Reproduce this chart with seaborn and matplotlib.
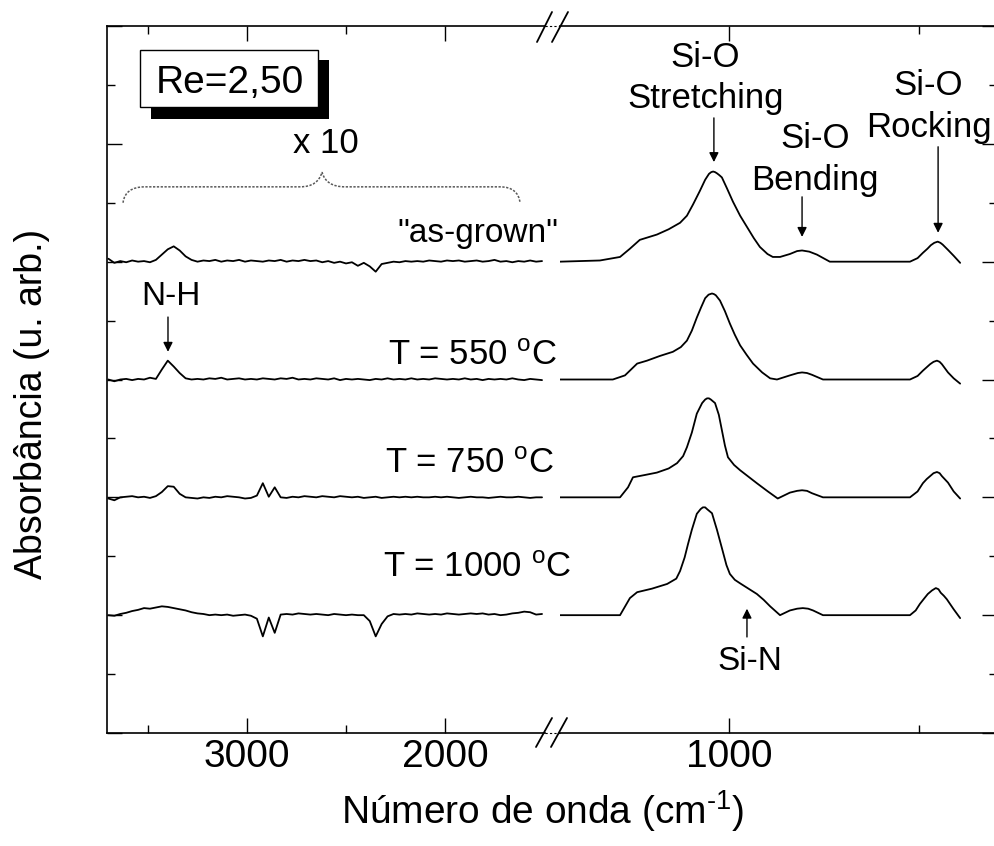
import matplotlib
matplotlib.use("Agg")
import matplotlib.pyplot as plt
import seaborn as sns
import pandas as pd
from matplotlib.lines import Line2D
from matplotlib.patches import Rectangle, PathPatch
from matplotlib.path import Path

# ---------------- data ----------------
OFFSETS = [8, 6, 4, 2]          # as-grown, 550, 750, 1000 °C (vertical offsets)
LABELS = ['"as-grown"', "T = 550 $^{\\rm o}$C", "T = 750 $^{\\rm o}$C", "T = 1000 $^{\\rm o}$C"]

# left panel (x10), wavenumber grid
LEFT_WN = list(range(3700, 1500, -30))
AG_L = [0.05, -0.02, 0.01, -0.01, 0.02, 0.00, 0.01, -0.01, 0.03, 0.12,
        0.21, 0.26, 0.19, 0.09, 0.03, 0.00, 0.02, 0.01, 0.03, 0.00,
        0.02, 0.01, 0.03, 0.00, 0.02, 0.01, 0.00, 0.02, 0.01, 0.03,
        0.00, 0.02, 0.01, 0.03, 0.01, 0.02, -0.01, 0.01, -0.02, 0.00,
        -0.03, -0.01, -0.07, -0.02, -0.08, -0.17, -0.04, -0.02, 0.00, -0.01,
        0.01, 0.00, 0.01, 0.00, 0.02, 0.01, 0.00, 0.02, 0.01, 0.02,
        0.00, 0.01, 0.02, 0.00, 0.01, 0.03, 0.00, 0.01, -0.01, 0.01,
        0.00, 0.02, 0.00, 0.01]
S550_L = [0.00, -0.03, 0.00, 0.01, -0.01, 0.01, 0.00, 0.03, 0.01, 0.17,
          0.32, 0.22, 0.11, 0.02, 0.00, 0.01, 0.00, 0.02, 0.01, 0.03,
          0.00, 0.01, 0.02, 0.00, 0.01, 0.00, 0.02, 0.01, 0.00, 0.02,
          0.01, 0.03, 0.00, 0.01, 0.00, 0.02, 0.01, 0.00, 0.02, -0.01,
          0.01, 0.00, 0.01, 0.00, -0.01, 0.01, 0.00, 0.02, 0.00, 0.01,
          0.00, 0.02, 0.00, 0.01, 0.00, 0.02, 0.01, 0.00, 0.01, 0.00,
          0.02, 0.00, 0.01, -0.01, 0.01, 0.00, 0.01, 0.00, 0.02, 0.00,
          -0.01, 0.01, 0.00, -0.01]
S750_L = [-0.02, -0.05, 0.00, 0.01, 0.02, 0.00, 0.01, -0.01, 0.02, 0.09,
          0.19, 0.18, 0.06, 0.00, -0.01, -0.02, 0.00, -0.01, 0.01, 0.00,
          0.02, 0.01, 0.00, -0.02, -0.01, 0.03, 0.24, 0.01, 0.17, 0.00,
          -0.01, 0.01, 0.00, 0.02, 0.01, 0.00, 0.02, 0.01, 0.00, 0.02,
          0.01, 0.00, 0.01, -0.01, 0.00, 0.01, -0.01, 0.00, 0.01, 0.00,
          0.01, 0.00, 0.01, 0.00, 0.00, 0.01, 0.00, 0.01, 0.00, -0.01,
          0.00, 0.01, 0.00, 0.00, -0.01, 0.00, 0.01, 0.00, 0.00, 0.01,
          0.00, -0.01, 0.00, 0.00]
S1000_L = [0.00, -0.01, 0.02, 0.04, 0.07, 0.09, 0.12, 0.11, 0.13, 0.15,
           0.14, 0.12, 0.10, 0.08, 0.05, 0.03, 0.02, 0.00, 0.01, 0.00,
           0.01, -0.01, 0.00, 0.01, -0.01, -0.06, -0.36, -0.04, -0.30, 0.01,
           0.02, 0.01, 0.03, 0.02, 0.01, 0.02, 0.01, 0.00, 0.02, 0.01,
           0.00, 0.01, 0.00, 0.00, -0.10, -0.36, -0.15, -0.02, 0.02, 0.01,
           0.02, 0.01, 0.03, 0.02, 0.01, 0.02, 0.01, 0.03, 0.02, 0.01,
           0.02, 0.03, 0.02, 0.03, 0.01, 0.02, 0.00, 0.01, 0.03, 0.04,
           0.06, 0.05, 0.01, 0.02]

# right panel
AG_R_WN = [1446, 1341, 1288, 1262, 1236, 1191, 1160, 1130, 1112, 1096, 1078, 1064, 1054, 1048,
           1043, 1038, 1033, 1027, 1020, 1007, 991, 972, 954, 936, 920, 900, 886, 867, 841,
           822, 809, 790, 770, 736, 630, 525, 505, 491, 479, 470, 461, 452, 445, 439, 425,
           410, 393]
AG_R = [0.00, 0.02, 0.08, 0.22, 0.37, 0.46, 0.55, 0.66, 0.78, 0.97, 1.20, 1.39, 1.49, 1.52,
        1.53, 1.52, 1.50, 1.47, 1.43, 1.25, 1.02, 0.78, 0.59, 0.40, 0.25, 0.13, 0.08, 0.08, 0.13,
        0.18, 0.19, 0.17, 0.12, 0.00, 0.00, 0.00, 0.06, 0.15, 0.22, 0.28, 0.32, 0.34, 0.32, 0.29, 0.20,
        0.10, -0.02]
S550_R_WN = [1446, 1307, 1275, 1243, 1217, 1183, 1149, 1128, 1112, 1099, 1086, 1075, 1064, 1055,
             1046, 1041, 1036, 1025, 1012, 999, 986, 972, 955, 938, 914, 893, 875, 841, 820, 809, 796,
             783, 754, 630, 525, 505, 491, 472, 463, 454, 447, 441, 425, 410, 393]
S550_R = [0.00, 0.00, 0.07, 0.27, 0.32, 0.40, 0.47, 0.55, 0.66, 0.83, 1.05, 1.22, 1.38, 1.44,
          1.46, 1.45, 1.43, 1.34, 1.16, 0.95, 0.76, 0.58, 0.42, 0.27, 0.12, 0.02, 0.00, 0.07, 0.11, 0.12, 0.11,
          0.08, 0.00, 0.00, 0.00, 0.06, 0.15, 0.26, 0.30, 0.32, 0.30, 0.26, 0.12, 0.02, -0.07]
S750_R_WN = [1446, 1288, 1267, 1254, 1222, 1191, 1160, 1138, 1122, 1112, 1099, 1086, 1072, 1064, 1059,
             1054, 1049, 1038, 1028, 1020, 1012, 1004, 988, 972, 950, 928, 899, 873, 841, 822, 809, 796,
             783, 754, 630, 525, 505, 491, 481, 472, 463, 454, 447, 441, 425, 410, 393]
S750_R = [0.00, 0.00, 0.17, 0.34, 0.38, 0.42, 0.49, 0.58, 0.70, 0.85, 1.10, 1.42, 1.60, 1.66, 1.68,
          1.68, 1.66, 1.60, 1.40, 1.14, 0.88, 0.68, 0.55, 0.46, 0.35, 0.24, 0.10, -0.02, 0.08, 0.11, 0.12, 0.11,
          0.07, 0.00, 0.00, 0.00, 0.10, 0.24, 0.31, 0.36, 0.41, 0.43, 0.41, 0.36, 0.25, 0.10, -0.02]
S1000_R_WN = [1446, 1288, 1262, 1243, 1204, 1164, 1140, 1130, 1118, 1109, 1099, 1086, 1076, 1070,
              1064, 1059, 1046, 1040, 1033, 1020, 1008, 999, 986, 972, 950, 928, 910, 893, 867, 841, 822,
              807, 793, 780, 754, 630, 525, 510, 499, 488, 478, 467, 457, 450, 444, 436, 428, 410, 393]
S1000_R = [0.00, 0.00, 0.29, 0.39, 0.45, 0.53, 0.62, 0.75, 0.98, 1.21, 1.45, 1.72, 1.80, 1.83,
           1.83, 1.80, 1.73, 1.60, 1.45, 1.14, 0.85, 0.70, 0.60, 0.54, 0.45, 0.36, 0.26, 0.15, 0.00, 0.08, 0.11,
           0.12, 0.11, 0.08, 0.00, 0.00, 0.00, 0.08, 0.19, 0.28, 0.36, 0.42, 0.46, 0.44, 0.38, 0.33, 0.27, 0.10, -0.05]

LEFT_SERIES = [AG_L, S550_L, S750_L, S1000_L]
RIGHT_SERIES = [(AG_R_WN, AG_R), (S550_R_WN, S550_R), (S750_R_WN, S750_R), (S1000_R_WN, S1000_R)]

# ---------------- style ----------------
sns.set_style("ticks")
plt.rcParams["font.family"] = ["Liberation Sans", "DejaVu Sans"]
plt.rcParams["mathtext.fontset"] = "custom"
plt.rcParams["mathtext.rm"] = "Liberation Sans"
plt.rcParams["mathtext.it"] = "Liberation Sans:italic"
plt.rcParams["mathtext.bf"] = "Liberation Sans:bold"
for k in ("text.color", "axes.labelcolor", "xtick.color", "ytick.color", "axes.edgecolor"):
    plt.rcParams[k] = "black"

W, H = 995, 846
fig = plt.figure(figsize=(W / 100, H / 100), dpi=100)
fig.patch.set_facecolor("white")


def fx(px):
    return px / W


def fy(py):
    return 1 - py / H


ax_top, ax_bot = 26, 733
axL = fig.add_axes([fx(107), fy(ax_bot), (545 - 107) / W, (ax_bot - ax_top) / H])
axR = fig.add_axes([fx(560), fy(ax_bot), (997 - 560) / W, (ax_bot - ax_top) / H])
axR.patch.set_visible(False)
axL.patch.set_visible(False)
axL.set_zorder(2)
axR.set_zorder(1)

LW = 1.3
for off, vals in zip(OFFSETS, LEFT_SERIES):
    df = pd.DataFrame({"wn": LEFT_WN, "a": [v + off for v in vals]})
    sns.lineplot(data=df, x="wn", y="a", ax=axL, color="black", lw=LW, sort=False, estimator=None)
for off, (wn, vals) in zip(OFFSETS, RIGHT_SERIES):
    df = pd.DataFrame({"wn": wn, "a": [v + off for v in vals]})
    sns.lineplot(data=df, x="wn", y="a", ax=axR, color="black", lw=LW, sort=False, estimator=None)

axL.set_xlim(3707, 1495)
axR.set_xlim(1446, 296)
for ax in (axL, axR):
    ax.set_ylim(0, 12)
    ax.set_yticks(range(0, 13, 2))
    ax.set_yticks(range(1, 13, 2), minor=True)
    ax.set_xlabel("")
    ax.set_ylabel("")
    ax.tick_params(which="both", direction="in", top=True, bottom=True, width=1.0,
                   labelsize=28, pad=4, labelleft=False, labelright=False)
    ax.tick_params(which="major", length=11)
    ax.tick_params(which="minor", length=5.5)
    for s in ax.spines.values():
        s.set_linewidth(1.2)
        s.set_color("black")

axL.set_xticks([3000, 2000])
axL.set_xticks([3500, 2500], minor=True)
axR.set_xticks([1000])
axR.set_xticks([500], minor=True)
axL.tick_params(axis="y", which="both", left=True, right=False)
axR.tick_params(axis="y", which="both", left=False, right=True)
axL.spines["right"].set_visible(False)
axR.spines["left"].set_visible(False)

# axis labels
fig.text(fx(543), fy(824), "Número de onda (cm$^{\\text{-1}}$)", ha="center", va="baseline", fontsize=28)
fig.text(fx(32), fy(404), "Absorbância (u. arb.)", ha="center", va="center", rotation=90, fontsize=27)

# break marks "//"
for (x0, y0, x1, y1) in [(537, 42, 552, 12), (552, 42, 568, 12),
                         (536, 747, 552, 718), (551, 747, 567, 718)]:
    fig.add_artist(Line2D([fx(x0), fx(x1)], [fy(y0), fy(y1)], transform=fig.transFigure,
                          color="black", lw=1.3))
for yy in (ax_top, ax_bot):
    fig.add_artist(Line2D([fx(545), fx(560)], [fy(yy), fy(yy)], transform=fig.transFigure,
                          color="black", lw=0.8, ls=(0, (2, 2))))

# sample labels
axL.text(2242, 8.34, LABELS[0], fontsize=24, ha="left", va="baseline")
axL.text(2288, 6.25, LABELS[1], fontsize=25, ha="left", va="baseline")
axL.text(2303, 4.41, LABELS[2], fontsize=25, ha="left", va="baseline")
axL.text(2313, 2.65, LABELS[3], fontsize=25, ha="left", va="baseline")

# Re box with shadow
fig.add_artist(Rectangle((fx(151), fy(119)), (329 - 151) / W, (119 - 60) / H,
                         transform=fig.transFigure, facecolor="black", edgecolor="none", zorder=5))
fig.add_artist(Rectangle((fx(140), fy(107)), (318 - 140) / W, (107 - 50) / H,
                         transform=fig.transFigure, facecolor="white", edgecolor="black", lw=1.0, zorder=6))
fig.text(fx(229.5), fy(93), "Re=2,50", fontsize=28, ha="center", va="baseline", zorder=7)

# x 10 and brace
axL.text(2601, 9.85, "x 10", fontsize=25, ha="center", va="baseline")
verts = [(3626, 9.00), (3616, 9.27), (3515, 9.27), (2732, 9.27),
         (2641, 9.27), (2621, 9.52), (2601, 9.27), (2505, 9.27),
         (1722, 9.27), (1631, 9.27), (1621, 9.00)]
codes = [Path.MOVETO, Path.CURVE3, Path.CURVE3, Path.LINETO,
         Path.CURVE3, Path.CURVE3, Path.CURVE3, Path.CURVE3,
         Path.LINETO, Path.CURVE3, Path.CURVE3]
axL.add_patch(PathPatch(Path(verts, codes), facecolor="none", edgecolor="0.35", lw=1.1,
                        ls=(0, (1.5, 1)), clip_on=False))

arrow = dict(arrowstyle="-|>", color="black", lw=1.0, mutation_scale=14, shrinkA=0, shrinkB=0)

# N-H
axL.text(3384, 7.27, "N-H", fontsize=24, ha="center", va="baseline")
axL.annotate("", xy=(3399, 6.47), xytext=(3399, 7.06), arrowprops=arrow)

# right annotations
axR.text(1063, 11.31, "Si-O", fontsize=25, ha="center", va="baseline")
axR.text(1063, 10.61, "Stretching", fontsize=25, ha="center", va="baseline")
axR.annotate("", xy=(1041, 9.69), xytext=(1041, 10.44), arrowprops=arrow)

axR.text(774, 9.93, "Si-O", fontsize=25, ha="center", va="baseline")
axR.text(774, 9.22, "Bending", fontsize=25, ha="center", va="baseline")
axR.annotate("", xy=(809, 8.42), xytext=(809, 9.10), arrowprops=arrow)

axR.text(476, 10.83, "Si-O", fontsize=25, ha="center", va="baseline")
axR.text(476, 10.12, "Rocking", fontsize=25, ha="center", va="baseline")
axR.annotate("", xy=(451, 8.49), xytext=(451, 9.95), arrowprops=arrow)

axR.text(946, 1.07, "Si-N", fontsize=24, ha="center", va="baseline")
axR.annotate("", xy=(954, 2.11), xytext=(954, 1.63), arrowprops=arrow)

fig.savefig("out.png", dpi=100, facecolor="white")
